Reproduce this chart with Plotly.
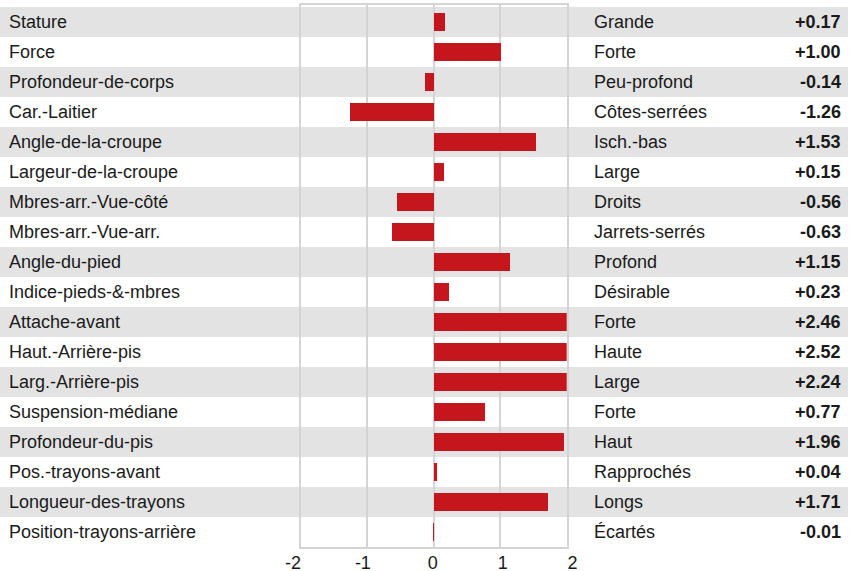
import plotly.graph_objects as go

traits = ["Stature", "Force", "Profondeur-de-corps", "Car.-Laitier", "Angle-de-la-croupe",
          "Largeur-de-la-croupe", "Mbres-arr.-Vue-côté", "Mbres-arr.-Vue-arr.", "Angle-du-pied",
          "Indice-pieds-&-mbres", "Attache-avant", "Haut.-Arrière-pis", "Larg.-Arrière-pis",
          "Suspension-médiane", "Profondeur-du-pis", "Pos.-trayons-avant", "Longueur-des-trayons",
          "Position-trayons-arrière"]
descriptors = ["Grande", "Forte", "Peu-profond", "Côtes-serrées", "Isch.-bas", "Large", "Droits",
               "Jarrets-serrés", "Profond", "Désirable", "Forte", "Haute", "Large", "Forte", "Haut",
               "Rapprochés", "Longs", "Écartés"]
values = [0.17, 1.00, -0.14, -1.26, 1.53, 0.15, -0.56, -0.63, 1.15, 0.23, 2.46, 2.52, 2.24,
          0.77, 1.96, 0.04, 1.71, -0.01]
tick_vals = [-2, -1, 0, 1, 2]
tick_text = ["-2", "-1", "0", "1", "2"]

W, H = 861, 571
ML, MR, MT, MB = 280, 280, 5, 4
PW = W - ML - MR
PH = H - MT - MB
Y_BOTTOM = 547  # pixel row of the bottom frame
X2_LINE = 550   # pixel row of the (invisible) tick-label axis


def px(x):
    return (x - ML) / PW


def py(y):
    return (H - MB - y) / PH


FONT = "Liberation Sans, Arial, Helvetica, sans-serif"
FS = 18
TXT = "#1a1a1a"
GRID = "#d4d4d4"
BAND = "#e3e3e3"

fig = go.Figure()
fig.add_trace(go.Bar(
    x=values, y=list(range(len(traits))), orientation="h", width=0.6,
    marker=dict(color="#c4161c", line=dict(width=0)), hoverinfo="skip", showlegend=False,
))
fig.add_trace(go.Scatter(x=[tick_vals[0], tick_vals[-1]], y=[0, 0], xaxis="x2", yaxis="y",
                         mode="markers", marker=dict(opacity=0), hoverinfo="skip", showlegend=False))

shapes = []
for i in range(0, len(traits), 2):
    shapes.append(dict(type="rect", xref="paper", yref="y", x0=px(0), x1=px(848),
                       y0=i - 0.5, y1=i + 0.5, fillcolor=BAND, line=dict(width=0), layer="below"))

ann = []
for i, (t, d, v) in enumerate(zip(traits, descriptors, values)):
    ann.append(dict(xref="paper", yref="y", x=px(7), y=i, text=t, showarrow=False,
                    xanchor="left", yanchor="middle", font=dict(family=FONT, size=FS, color=TXT)))
    ann.append(dict(xref="paper", yref="y", x=px(592), y=i, text=d, showarrow=False,
                    xanchor="left", yanchor="middle", font=dict(family=FONT, size=FS, color=TXT)))
    ann.append(dict(xref="paper", yref="y", x=px(843), y=i, text="<b>%+.2f</b>" % v, showarrow=False,
                    xanchor="right", yanchor="middle", font=dict(family=FONT, size=FS, color=TXT)))

fig.update_layout(
    width=W, height=H, margin=dict(l=ML, r=MR, t=MT, b=MB),
    paper_bgcolor="white", plot_bgcolor="rgba(0,0,0,0)",
    shapes=shapes, annotations=ann, bargap=0,
    xaxis=dict(domain=[px(300.7), px(566.7)], range=[-2, 2], tickvals=tick_vals, showticklabels=False,
               showgrid=True, gridcolor=GRID, gridwidth=2, zeroline=False, showline=True, mirror=True,
               linecolor=GRID, linewidth=2, layer="above traces", ticks="", fixedrange=True,
               automargin=False),
    xaxis2=dict(domain=[px(293), px(572.5)], range=[-2, 2], anchor="free", position=py(X2_LINE),
                tickvals=tick_vals, ticktext=tick_text, showgrid=False, zeroline=False,
                showline=False, ticks="", tickfont=dict(family=FONT, size=FS, color=TXT),
                fixedrange=True, automargin=False),
    yaxis=dict(domain=[py(Y_BOTTOM), 1], range=[len(traits) - 0.5, -0.5 - 2 / 30],
               showticklabels=False, showgrid=False, zeroline=False, showline=True, mirror=True,
               linecolor=GRID, linewidth=2, ticks="", fixedrange=True, automargin=False),
)

fig.write_html("out.html", config={"displayModeBar": False},
               post_script="document.body.style.margin='0';")
